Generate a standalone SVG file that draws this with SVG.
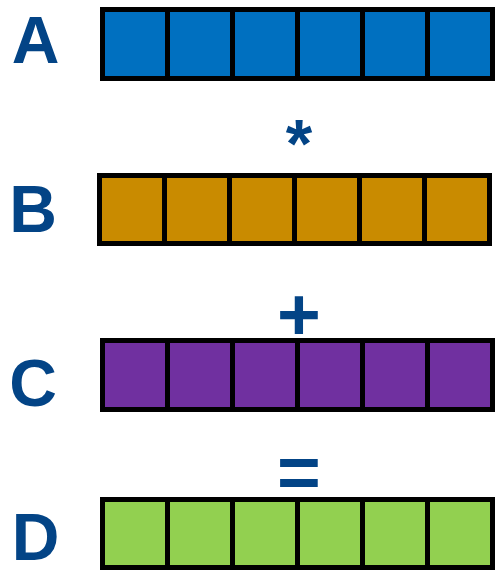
<svg xmlns="http://www.w3.org/2000/svg" width="495" height="570" viewBox="0 0 495 570">
<style>
.lbl{font-family:"Liberation Sans",Arial,sans-serif;font-weight:bold;font-size:66px;fill:#034486;text-anchor:middle}
.op{font-family:"Liberation Sans",Arial,sans-serif;font-weight:bold;font-size:75px;fill:#034486;text-anchor:middle}
.cell{stroke:#000;stroke-width:5}
.a{fill:#0070C0}.b{fill:#C98B00}.c{fill:#7030A0}.d{fill:#92D050}
</style>
<rect width="495" height="570" fill="#fff"/>
<g id="rowA">
<text class="lbl" x="35.5" y="63">A</text>
<rect class="cell a" x="102.5" y="9.5" width="65" height="69"/>
<rect class="cell a" x="167.5" y="9.5" width="65" height="69"/>
<rect class="cell a" x="232.5" y="9.5" width="65" height="69"/>
<rect class="cell a" x="297.5" y="9.5" width="65" height="69"/>
<rect class="cell a" x="362.5" y="9.5" width="65" height="69"/>
<rect class="cell a" x="427.5" y="9.5" width="65" height="69"/>
</g>
<g id="op1"><text class="op" x="299" y="167" style="font-size:68px">*</text></g>
<g id="rowB">
<text class="lbl" x="33" y="232">B</text>
<rect class="cell b" x="99.5" y="175.5" width="65" height="68"/>
<rect class="cell b" x="164.5" y="175.5" width="65" height="68"/>
<rect class="cell b" x="229.5" y="175.5" width="65" height="68"/>
<rect class="cell b" x="294.5" y="175.5" width="65" height="68"/>
<rect class="cell b" x="359.5" y="175.5" width="65" height="68"/>
<rect class="cell b" x="424.5" y="175.5" width="65" height="68"/>
</g>
<g id="op2"><text class="op" x="299" y="340">+</text></g>
<g id="rowC">
<text class="lbl" x="33" y="406">C</text>
<rect class="cell c" x="102.5" y="340.5" width="65" height="69"/>
<rect class="cell c" x="167.5" y="340.5" width="65" height="69"/>
<rect class="cell c" x="232.5" y="340.5" width="65" height="69"/>
<rect class="cell c" x="297.5" y="340.5" width="65" height="69"/>
<rect class="cell c" x="362.5" y="340.5" width="65" height="69"/>
<rect class="cell c" x="427.5" y="340.5" width="65" height="69"/>
</g>
<g id="op3"><text class="op" x="299" y="498">=</text></g>
<g id="rowD">
<text class="lbl" x="35.5" y="559.5">D</text>
<rect class="cell d" x="102.5" y="499.5" width="65" height="68"/>
<rect class="cell d" x="167.5" y="499.5" width="65" height="68"/>
<rect class="cell d" x="232.5" y="499.5" width="65" height="68"/>
<rect class="cell d" x="297.5" y="499.5" width="65" height="68"/>
<rect class="cell d" x="362.5" y="499.5" width="65" height="68"/>
<rect class="cell d" x="427.5" y="499.5" width="65" height="68"/>
</g>
<g id="connectors"></g>
</svg>
